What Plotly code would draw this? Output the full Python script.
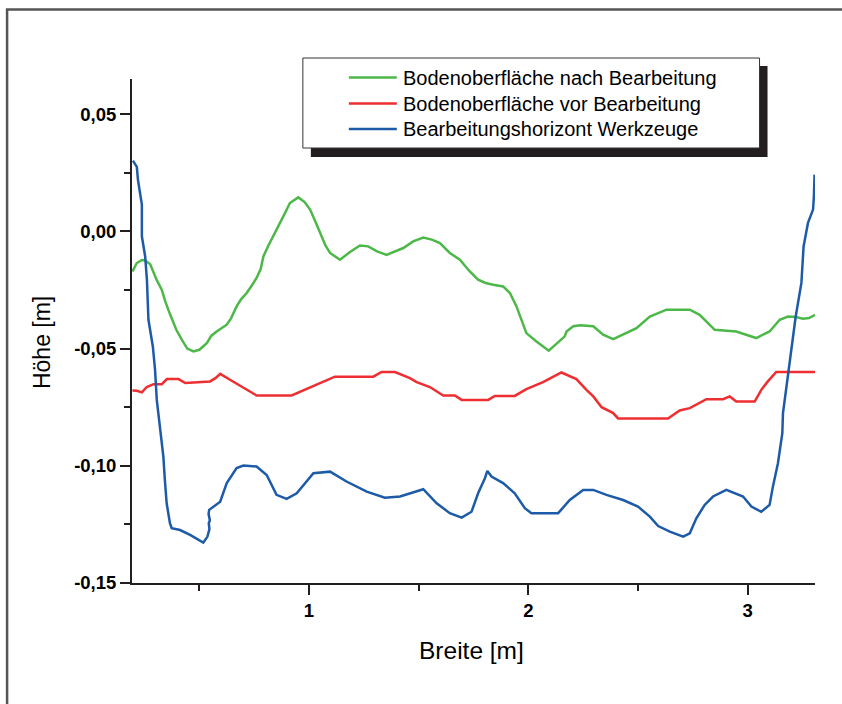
import plotly.graph_objects as go

# ---------------- data ----------------
green_x = [0.195, 0.215, 0.238, 0.253, 0.276, 0.290, 0.305, 0.329, 0.345, 0.367, 0.395, 0.420, 0.445,
           0.473, 0.500, 0.534, 0.555, 0.579, 0.600, 0.625, 0.645, 0.670, 0.690, 0.716, 0.740, 0.761,
           0.780, 0.792, 0.815, 0.837, 0.860, 0.883, 0.913, 0.951, 0.980, 1.005, 1.030, 1.050, 1.075,
           1.096, 1.141, 1.187, 1.232, 1.270, 1.310, 1.354, 1.395, 1.430, 1.475, 1.521, 1.560, 1.597,
           1.642, 1.688, 1.733, 1.771, 1.805, 1.840, 1.885, 1.916, 1.946, 1.969, 1.991, 2.037, 2.093,
           2.166, 2.174, 2.205, 2.235, 2.296, 2.341, 2.387, 2.432, 2.493, 2.554, 2.630, 2.736, 2.781,
           2.850, 2.948, 3.039, 3.100, 3.146, 3.184, 3.220, 3.252, 3.280, 3.307]
green_y = [-0.0171, -0.0135, -0.0122, -0.0124, -0.0140, -0.0175, -0.0206, -0.0250, -0.0300, -0.0355,
           -0.0420, -0.0462, -0.0500, -0.0512, -0.0505, -0.0477, -0.0445, -0.0427, -0.0412, -0.0398,
           -0.0370, -0.0320, -0.0290, -0.0263, -0.0230, -0.0199, -0.0160, -0.0107, -0.0060, -0.0021,
           0.0020, 0.0064, 0.0121, 0.0145, 0.0125, 0.0093, 0.0040, -0.0007, -0.0060, -0.0092, -0.0121,
           -0.0088, -0.0060, -0.0064, -0.0085, -0.0100, -0.0085, -0.0071, -0.0043, -0.0026, -0.0035,
           -0.0050, -0.0092, -0.0121, -0.0171, -0.0206, -0.0220, -0.0228, -0.0235, -0.0263, -0.0320,
           -0.0377, -0.0434, -0.0470, -0.0509, -0.0448, -0.0427, -0.0405, -0.0401, -0.0405, -0.0441,
           -0.0460, -0.0441, -0.0413, -0.0363, -0.0334, -0.0334, -0.0356, -0.0420, -0.0427, -0.0455,
           -0.0427, -0.0377, -0.0363, -0.0365, -0.0373, -0.0370, -0.0356]

red_x = [0.195, 0.215, 0.238, 0.260, 0.291, 0.329, 0.352, 0.405, 0.436, 0.481, 0.549, 0.575, 0.595,
         0.640, 0.693, 0.761, 0.921, 0.989, 1.050, 1.118, 1.293, 1.331, 1.392, 1.460, 1.491, 1.551,
         1.612, 1.665, 1.696, 1.817, 1.847, 1.938, 1.991, 2.067, 2.151, 2.219, 2.265, 2.296, 2.334,
         2.387, 2.409, 2.637, 2.690, 2.736, 2.812, 2.888, 2.918, 2.948, 3.032, 3.062, 3.092, 3.130,
         3.307]
red_y = [-0.0679, -0.0680, -0.0687, -0.0664, -0.0652, -0.0652, -0.0630, -0.0630, -0.0647, -0.0643,
         -0.0640, -0.0625, -0.0608, -0.0633, -0.0664, -0.0700, -0.0700, -0.0673, -0.0647, -0.0620,
         -0.0620, -0.0600, -0.0600, -0.0626, -0.0643, -0.0664, -0.0700, -0.0700, -0.0719, -0.0719,
         -0.0702, -0.0702, -0.0673, -0.0643, -0.0602, -0.0630, -0.0676, -0.0704, -0.0750, -0.0775,
         -0.0798, -0.0798, -0.0764, -0.0754, -0.0716, -0.0716, -0.0704, -0.0726, -0.0726, -0.0676,
         -0.0640, -0.0600, -0.0600]

blue_x = [0.197, 0.215, 0.220, 0.238, 0.238, 0.253, 0.261, 0.268, 0.288, 0.298, 0.306, 0.321, 0.336,
          0.343, 0.351, 0.366, 0.374, 0.412, 0.458, 0.518, 0.537, 0.546, 0.543, 0.548, 0.542, 0.545,
          0.595, 0.625, 0.670, 0.701, 0.761, 0.807, 0.852, 0.898, 0.944, 1.020, 1.096, 1.171, 1.232,
          1.263, 1.346, 1.415, 1.521, 1.582, 1.642, 1.696, 1.741, 1.771, 1.802, 1.813, 1.832, 1.885,
          1.938, 1.984, 2.014, 2.136, 2.189, 2.250, 2.296, 2.356, 2.432, 2.500, 2.554, 2.592, 2.645,
          2.706, 2.736, 2.766, 2.804, 2.842, 2.903, 2.979, 3.017, 3.062, 3.100, 3.115, 3.138, 3.158,
          3.161, 3.179, 3.196, 3.219, 3.245, 3.255, 3.275, 3.298, 3.302, 3.305]
blue_y = [0.0302, 0.0275, 0.0221, 0.0114, -0.0021, -0.0107, -0.0206, -0.0377, -0.0491, -0.0590,
          -0.0719, -0.0847, -0.0961, -0.1062, -0.1160, -0.1245, -0.1266, -0.1274, -0.1295, -0.1328,
          -0.1302, -0.1270, -0.1245, -0.1232, -0.1205, -0.1188, -0.1153, -0.1074, -0.1010, -0.0999,
          -0.1003, -0.1039, -0.1124, -0.1141, -0.1117, -0.1032, -0.1025, -0.1067, -0.1096, -0.1110,
          -0.1136, -0.1131, -0.1100, -0.1160, -0.1202, -0.1221, -0.1196, -0.1117, -0.1053, -0.1022,
          -0.1046, -0.1074, -0.1117, -0.1181, -0.1202, -0.1202, -0.1146, -0.1103, -0.1103, -0.1124,
          -0.1146, -0.1174, -0.1217, -0.1257, -0.1281, -0.1302, -0.1288, -0.1224, -0.1167, -0.1131,
          -0.1103, -0.1131, -0.1174, -0.1196, -0.1167, -0.1089, -0.0989, -0.0861, -0.0775, -0.0647,
          -0.0505, -0.0363, -0.0220, -0.0064, 0.0036, 0.0093, 0.0150, 0.0242]

series_names = ["Bodenoberfläche nach Bearbeitung",
                "Bodenoberfläche vor Bearbeitung",
                "Bearbeitungshorizont Werkzeuge"]
series_colors = ["#4cb848", "#ee2e31", "#1d5ba8"]

x_tickvals = [1, 2, 3]
x_ticktext = ["1", "2", "3"]
x_minorvals = [0.5, 1.5, 2.5]
y_tickvals = [0.05, 0.0, -0.05, -0.10, -0.15]
y_ticktext = ["0,05", "0,00", "-0,05", "-0,10", "-0,15"]
y_minorvals = [0.025, -0.025, -0.075, -0.125]

x_title = "Breite [m]"
y_title = "Höhe [m]"

# ---------------- figure ----------------
W, H = 842, 704
L, R, T, B = 132, 26.5, 79, 121
pw, ph = W - L - R, H - T - B


def px(x):
    return (x - L) / pw


def py(y):
    return (H - B - y) / ph


fig = go.Figure()
for xs, ys, name, col in zip([green_x, red_x, blue_x], [green_y, red_y, blue_y],
                             series_names, series_colors):
    fig.add_trace(go.Scatter(x=xs, y=ys, mode="lines", name=name,
                             line=dict(color=col, width=2.5), showlegend=False))

axis_col = "#231f20"
font_fam = "Liberation Sans, Arial, Helvetica, sans-serif"

fig.update_layout(
    width=W, height=H,
    margin=dict(l=L, r=R, t=T, b=B, pad=0),
    paper_bgcolor="white", plot_bgcolor="white",
    font=dict(family=font_fam, color="black"),
    xaxis=dict(range=[0.193, 3.307], showgrid=False, zeroline=False,
               showline=True, linecolor=axis_col, linewidth=2,
               ticks="outside", ticklen=10, tickwidth=2, tickcolor=axis_col,
               tickmode="array", tickvals=x_tickvals, ticktext=x_ticktext,
               tickfont=dict(size=18.5, weight="bold", family=font_fam),
               minor=dict(tickmode="array", tickvals=x_minorvals, ticks="outside",
                          ticklen=6, tickwidth=2, tickcolor=axis_col)),
    yaxis=dict(range=[-0.15, 0.065], showgrid=False, zeroline=False,
               showline=True, linecolor=axis_col, linewidth=2,
               ticks="outside", ticklen=10, tickwidth=2, tickcolor=axis_col,
               tickmode="array", tickvals=y_tickvals, ticktext=y_ticktext,
               tickfont=dict(size=18.5, weight="bold", family=font_fam),
               minor=dict(tickmode="array", tickvals=y_minorvals, ticks="outside",
                          ticklen=6, tickwidth=2, tickcolor=axis_col)),
)

shapes = []
# outer frame (left and top edges)
shapes.append(dict(type="path", xref="paper", yref="paper",
                   path=f"M {px(7)} {py(712)} L {px(7)} {py(9.5)} L {px(850)} {py(9.5)}",
                   line=dict(color="#555555", width=2.5)))
# legend shadow and box
shapes.append(dict(type="rect", xref="paper", yref="paper",
                   x0=px(311), x1=px(768), y0=py(157), y1=py(66),
                   fillcolor="#231f20", line=dict(width=0), layer="above"))
shapes.append(dict(type="rect", xref="paper", yref="paper",
                   x0=px(303), x1=px(760), y0=py(148), y1=py(58),
                   fillcolor="white", line=dict(color="#333333", width=1), layer="above"))
rows = [77.5, 103.5, 129]
annotations = []
for r, name, col in zip(rows, series_names, series_colors):
    shapes.append(dict(type="line", xref="paper", yref="paper",
                       x0=px(349), x1=px(397), y0=py(r), y1=py(r),
                       line=dict(color=col, width=2.5), layer="above"))
    annotations.append(dict(xref="paper", yref="paper", x=px(401), y=py(r),
                            text=name, showarrow=False, xanchor="left", yanchor="middle",
                            font=dict(size=20, family=font_fam, color="black")))

annotations.append(dict(xref="paper", yref="paper", x=px(472), y=py(650), text=x_title,
                        showarrow=False, xanchor="center", yanchor="middle",
                        font=dict(size=24.5, family=font_fam, color="black")))
annotations.append(dict(xref="paper", yref="paper", x=px(42), y=py(343), text=y_title,
                        showarrow=False, xanchor="center", yanchor="middle", textangle=-90,
                        font=dict(size=23, family=font_fam, color="black")))

fig.update_layout(shapes=shapes, annotations=annotations)
fig.write_html("out.html", config={"displayModeBar": False},
               post_script="document.body.style.margin='0px';document.body.style.padding='0px';")
